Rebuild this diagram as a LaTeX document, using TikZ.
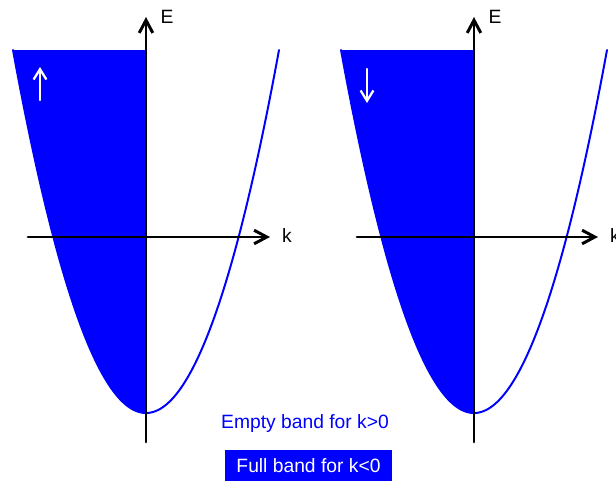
\documentclass[tikz,border=0pt]{standalone}
\usepackage{fontspec}
\setmainfont{Liberation Sans}
\usetikzlibrary{arrows.meta}
\definecolor{bandblue}{rgb}{0.,0.,1.}
\tikzset{
  axis/.style={line width=2.1pt,-{Straight Barb[length=3.2mm,width=3.4mm]}},
  band/.style={bandblue,line width=1.4pt},
  spin/.style={white,line width=1.6pt,-{Straight Barb[length=2.6mm,width=3.2mm]}},
  lbl/.style={font=\fontsize{13.7}{16}\selectfont},
}
\begin{document}
\begin{tikzpicture}[x=0.025cm,y=-0.025cm,line cap=round,line join=round]
    \useasboundingbox (0,0) rectangle (616,480);
    % spin up panel
    \fill [bandblue] plot[domain=-133:0,samples=60] ({146+\x},{413-363*(\x/133)^2}) -- (146,50) -- cycle;
    \draw [band] plot[domain=-133:133,samples=120] ({146+\x},{413-363*(\x/133)^2});
    \draw [axis] (146,442) -- (146,17);
    \draw [axis] (28,237) -- (270,237);
    \draw [spin] (40,100) -- (40,67);
    \node [lbl] (e1) at (167,17) {E};
    \node [lbl] (k1) at (287,236) {k};
    % spin down panel
    \fill [bandblue] plot[domain=-133:0,samples=60] ({474+\x},{413-363*(\x/133)^2}) -- (474,50) -- cycle;
    \draw [band] plot[domain=-133:133,samples=120] ({474+\x},{413-363*(\x/133)^2});
    \draw [axis] (474,442) -- (474,17);
    \draw [axis] (357,237) -- (598,237);
    \draw [spin] (367,69) -- (367,103);
    \node [lbl] (e2) at (495,17) {E};
    \node [lbl] (k2) at (615,236) {k};
    % legend
    \node [lbl,text=bandblue] (empty) at (305,424) {Empty band for k>0};
    \node [lbl,text=white,fill=bandblue,minimum width=167*0.025cm,minimum height=32*0.025cm,inner sep=0pt] (full) at (308.5,466) {Full band for k<0};
\end{tikzpicture}
\end{document}
